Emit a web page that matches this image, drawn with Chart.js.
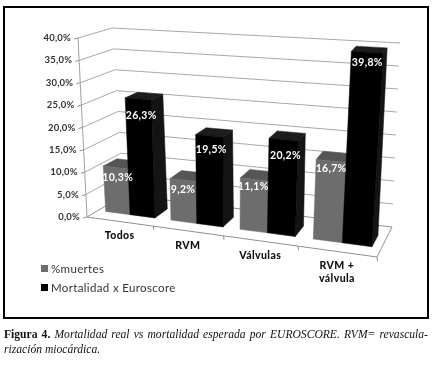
<!DOCTYPE html>
<html>
<head>
<meta charset="utf-8">
<script src="https://cdn.jsdelivr.net/npm/chart.js@4"></script>
<style>
  html, body { margin: 0; padding: 0; background: #fff; }
  #page { position: relative; width: 432px; height: 365px; overflow: hidden; }
  #frame { position: absolute; left: 3px; top: 6px; width: 422px; height: 309px; border: 2px solid #000; }
  #chart { position: absolute; left: 0; top: 0; filter: blur(0.4px); }
  .leg { position: absolute; left: 51px; font: 11.5px Lato, sans-serif; letter-spacing: 0.35px; color: #333; white-space: nowrap; line-height: 14px; }
  .leg i { position: absolute; left: -10px; top: 3px; width: 7px; height: 7px; }
  #caption { position: absolute; left: 4px; top: 327px; width: 424px; font: 11.6px/15px "Liberation Serif", serif; color: #111; }
  #caption div { white-space: nowrap; }
  #caption .l1 { text-align: justify; text-align-last: justify; }
  #caption em { font-style: italic; }
</style>
</head>
<body>
<div id="page">
  <div id="frame"></div>
  <canvas id="chart" width="432" height="365"></canvas>
  <div id="legend"></div>
  <div id="caption">
    <div class="l1"><b>Figura 4.</b> <em>Mortalidad real vs mortalidad esperada por EUROSCORE. RVM= revascula-</em></div>
    <div><em>rización miocárdica.</em></div>
  </div>
</div>
<script>
var categories = ["Todos", "RVM", "Válvulas", ["RVM +", "válvula"]];
var muertes = [10.3, 9.2, 11.1, 16.7];
var euroscore = [26.3, 19.5, 20.2, 39.8];
var muertesLabels = ["10,3%", "9,2%", "11,1%", "16,7%"];
var euroscoreLabels = ["26,3%", "19,5%", "20,2%", "39,8%"];

// corners of the 3d box as seen in the picture: [u][v][w]
var box = {
  "000": [87, 217], "100": [377, 257], "001": [124, 195], "101": [392, 227],
  "010": [78, 38], "110": [391, 57], "011": [112, 28], "111": [400, 43]
};
var uBend = 1.124;
var depthFront = 0.3, depthBack = 0.68;
// label shift from the top front edge of each bar, per dataset
var labelShift = [
  [[2, 10], [0, 10], [-1, 7], [0, 8]],
  [[3, 17], [2, 14], [2, 16], [0, 10]]
];

function project(t, v, w) {
  var u = t / (t + (1 - t) * uBend);
  var out = [0, 0];
  for (var i = 0; i < 2; i++) {
    var a = box["000"][i] * (1 - u) + box["100"][i] * u;
    var b = box["001"][i] * (1 - u) + box["101"][i] * u;
    var c = box["010"][i] * (1 - u) + box["110"][i] * u;
    var d = box["011"][i] * (1 - u) + box["111"][i] * u;
    var low = a * (1 - w) + b * w;
    var high = c * (1 - w) + d * w;
    out[i] = low * (1 - v) + high * v;
  }
  return out;
}

function line(ctx, a, b, color) {
  ctx.strokeStyle = color;
  ctx.lineWidth = 1;
  ctx.beginPath();
  ctx.moveTo(a[0], a[1]);
  ctx.lineTo(b[0], b[1]);
  ctx.stroke();
}

function face(ctx, pts, color) {
  ctx.fillStyle = color;
  ctx.strokeStyle = color;
  ctx.lineWidth = 0.5;
  ctx.beginPath();
  ctx.moveTo(pts[0][0], pts[0][1]);
  for (var i = 1; i < pts.length; i++) ctx.lineTo(pts[i][0], pts[i][1]);
  ctx.closePath();
  ctx.fill();
  ctx.stroke();
}

var box3d = {
  id: "box3d",
  beforeDatasetsDraw: function (chart) {
    var ctx = chart.ctx;
    var xs = chart.scales.x, ys = chart.scales.y;
    var span = xs.right - xs.left;
    var toT = function (px) { return (px - xs.left) / span; };
    var toV = function (px) { return (ys.bottom - px) / (ys.bottom - ys.top); };

    ctx.save();
    // walls
    ys.ticks.forEach(function (tick) {
      var v = toV(ys.getPixelForValue(tick.value));
      var grey = tick.value === 0 ? "#8f8f8f" : "#a8a8a8";
      line(ctx, project(0, v, 0), project(0, v, 1), grey);
      line(ctx, project(0, v, 1), project(1, v, 1), grey);
      var f = project(0, v, 0);
      line(ctx, [f[0] - 4, f[1] + 1], f, "#8f8f8f");
      ctx.fillStyle = "#333";
      ctx.font = "bold 9.5px Lato, sans-serif";
      ctx.letterSpacing = "0.2px";
      ctx.textAlign = "right";
      ctx.textBaseline = "middle";
      ctx.fillText(tick.value.toFixed(1).replace(".", ",") + "%", f[0] - 7, f[1]);
    });
    line(ctx, project(0, 0, 0), project(0, 1, 0), "#a0a0a0");
    line(ctx, project(0, 0, 0), project(1, 0, 0), "#8f8f8f");
    line(ctx, project(1, 0, 0), project(1, 0, 1), "#8f8f8f");

    // category ticks and names
    categories.forEach(function (cat, i) {
      var edge = project((i + 1) / categories.length, 0, 0);
      line(ctx, edge, [edge[0] + 0.5, edge[1] + 4], "#8f8f8f");
      var c = project(toT(xs.getPixelForValue(i)), 0, 0);
      var rows = [].concat(cat);
      ctx.fillStyle = "#111";
      ctx.font = "900 10.5px Lato, sans-serif";
      ctx.letterSpacing = "0.4px";
      ctx.textAlign = "center";
      ctx.textBaseline = "middle";
      rows.forEach(function (row, r) {
        ctx.fillText(row, c[0], c[1] + 14.5 + r * 13);
      });
    });

    // bars
    var styles = [
      { front: "#6d6d6d", side: "#555", top: "#555" },
      { front: "#000", side: "#141414", top: "#1c1c1c" }
    ];
    var lookups = [muertesLabels, euroscoreLabels];
    categories.forEach(function (cat, i) {
      [0, 1].forEach(function (d) {
        var el = chart.getDatasetMeta(d).data[i];
        var l = toT(el.x - el.width / 2), r = toT(el.x + el.width / 2);
        var v = toV(el.y);
        var s = styles[d];
        face(ctx, [project(r, 0, depthFront), project(r, 0, depthBack), project(r, v, depthBack), project(r, v, depthFront)], s.side);
        face(ctx, [project(l, v, depthFront), project(r, v, depthFront), project(r, v, depthBack), project(l, v, depthBack)], s.top);
        face(ctx, [project(l, 0, depthFront), project(r, 0, depthFront), project(r, v, depthFront), project(l, v, depthFront)], s.front);
      });
    });
    categories.forEach(function (cat, i) {
      [0, 1].forEach(function (d) {
        var el = chart.getDatasetMeta(d).data[i];
        var l = toT(el.x - el.width / 2), r = toT(el.x + el.width / 2);
        var p = project((l + r) / 2, toV(el.y), depthFront);
        var shift = labelShift[d][i];
        ctx.fillStyle = "#fff";
        ctx.font = "bold 10.5px Lato, sans-serif";
        ctx.letterSpacing = "0.3px";
        ctx.textAlign = "center";
        ctx.textBaseline = "middle";
        ctx.fillText(lookups[d][i], p[0] + shift[0], p[1] + shift[1]);
      });
    });
    ctx.restore();
    return false;
  }
};

var chart = new Chart(document.getElementById("chart"), {
  type: "bar",
  data: {
    labels: categories,
    datasets: [
      { label: "%muertes", data: muertes, backgroundColor: "#6d6d6d", categoryPercentage: 0.76, barPercentage: 1 },
      { label: "Mortalidad x Euroscore", data: euroscore, backgroundColor: "#000", categoryPercentage: 0.76, barPercentage: 1 }
    ]
  },
  options: {
    responsive: false,
    animation: false,
    layout: { padding: { left: 87, right: 40, top: 38, bottom: 100 } },
    plugins: { legend: { display: false }, tooltip: { enabled: false } },
    scales: {
      x: { display: false },
      y: { display: false, min: 0, max: 40, ticks: { stepSize: 5 } }
    }
  },
  plugins: [box3d]
});

// legend built from the datasets
var legendBox = document.getElementById("legend");
chart.data.datasets.forEach(function (ds, i) {
  var row = document.createElement("div");
  row.className = "leg";
  row.style.top = (262 + i * 19) + "px";
  row.innerHTML = '<i style="background:' + ds.backgroundColor + '"></i>' + ds.label;
  legendBox.appendChild(row);
});
</script>
</body>
</html>
